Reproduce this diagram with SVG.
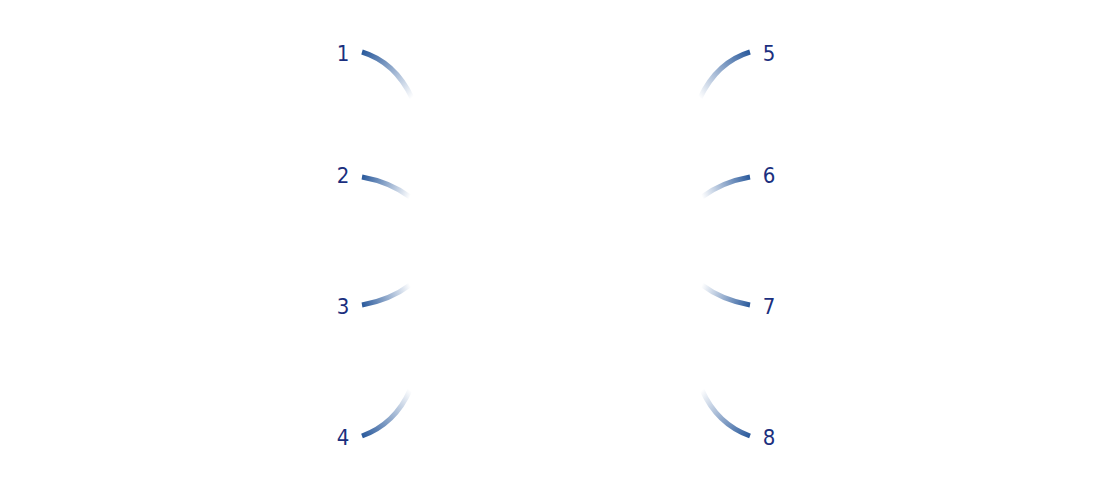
<svg xmlns="http://www.w3.org/2000/svg" width="1115" height="488" viewBox="0 0 1115 488">
<style>
.l{font-family:"DejaVu Sans Condensed","DejaVu Sans",sans-serif;font-stretch:condensed;font-size:22px;fill:#1b2f7e;text-anchor:middle}
.a{fill:none;stroke-width:5;stroke-linecap:butt}
</style>
<defs>
<linearGradient id="g1" gradientUnits="userSpaceOnUse" x1="362" y1="52" x2="412" y2="98"><stop offset="0" stop-color="#2a5a9c"/><stop offset="1" stop-color="#2a5a9c" stop-opacity="0"/></linearGradient>
<linearGradient id="g2" gradientUnits="userSpaceOnUse" x1="362" y1="177" x2="410" y2="197"><stop offset="0" stop-color="#2a5a9c"/><stop offset="1" stop-color="#2a5a9c" stop-opacity="0"/></linearGradient>
<linearGradient id="g3" gradientUnits="userSpaceOnUse" x1="362" y1="305" x2="410" y2="285"><stop offset="0" stop-color="#2a5a9c"/><stop offset="1" stop-color="#2a5a9c" stop-opacity="0"/></linearGradient>
<linearGradient id="g4" gradientUnits="userSpaceOnUse" x1="362" y1="436" x2="410" y2="390"><stop offset="0" stop-color="#2a5a9c"/><stop offset="1" stop-color="#2a5a9c" stop-opacity="0"/></linearGradient>
<linearGradient id="g5" gradientUnits="userSpaceOnUse" x1="750" y1="52" x2="700" y2="98"><stop offset="0" stop-color="#2a5a9c"/><stop offset="1" stop-color="#2a5a9c" stop-opacity="0"/></linearGradient>
<linearGradient id="g6" gradientUnits="userSpaceOnUse" x1="750" y1="177" x2="702" y2="197"><stop offset="0" stop-color="#2a5a9c"/><stop offset="1" stop-color="#2a5a9c" stop-opacity="0"/></linearGradient>
<linearGradient id="g7" gradientUnits="userSpaceOnUse" x1="750" y1="305" x2="702" y2="285"><stop offset="0" stop-color="#2a5a9c"/><stop offset="1" stop-color="#2a5a9c" stop-opacity="0"/></linearGradient>
<linearGradient id="g8" gradientUnits="userSpaceOnUse" x1="750" y1="436" x2="702" y2="390"><stop offset="0" stop-color="#2a5a9c"/><stop offset="1" stop-color="#2a5a9c" stop-opacity="0"/></linearGradient>
</defs>
<g id="connectors">
<path class="a" stroke="url(#g1)" d="M362,52 Q395,62 412,98"/>
<path class="a" stroke="url(#g2)" d="M362,177 Q390,182 410,197"/>
<path class="a" stroke="url(#g3)" d="M362,305 Q390,300 410,285"/>
<path class="a" stroke="url(#g4)" d="M362,436 Q395,424 410,390"/>
<path class="a" stroke="url(#g5)" d="M750,52 Q717,62 700,98"/>
<path class="a" stroke="url(#g6)" d="M750,177 Q722,182 702,197"/>
<path class="a" stroke="url(#g7)" d="M750,305 Q722,300 702,285"/>
<path class="a" stroke="url(#g8)" d="M750,436 Q717,424 702,390"/>
</g>
<g id="n1"><text class="l" x="343" y="61">1</text></g>
<g id="n2"><text class="l" x="343" y="183">2</text></g>
<g id="n3"><text class="l" x="343" y="314">3</text></g>
<g id="n4"><text class="l" x="343" y="445">4</text></g>
<g id="n5"><text class="l" x="769" y="61">5</text></g>
<g id="n6"><text class="l" x="769" y="183">6</text></g>
<g id="n7"><text class="l" x="769" y="314">7</text></g>
<g id="n8"><text class="l" x="769" y="445">8</text></g>
</svg>
